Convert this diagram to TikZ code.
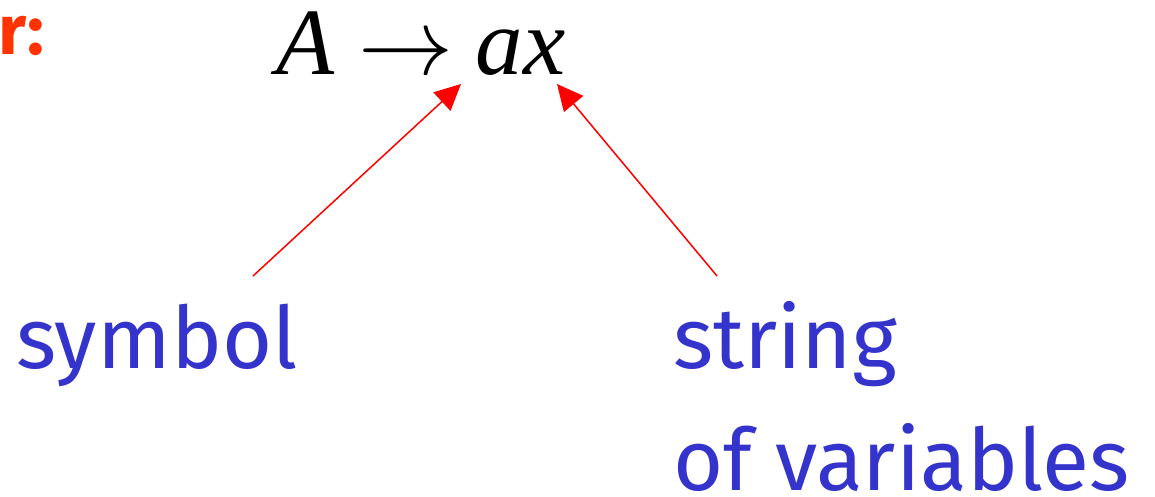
\documentclass[tikz,border=0pt]{standalone}
\usepackage{fix-cm}
\usepackage{fontspec}
\setmainfont{Liberation Serif}
\newfontfamily\labelfont{Fira Sans}
\usepackage{xcolor}
\definecolor{labelblue}{HTML}{3434CC}
\definecolor{titleorange}{HTML}{FF3300}
\usepackage{tikz}
\usetikzlibrary{arrows.meta, positioning}

\begin{document}
\begin{tikzpicture}[x=1pt, y=-1pt,
    lbl/.style={anchor=base west, inner sep=0pt, text=labelblue,
                font=\labelfont\fontsize{86}{122}\selectfont, align=left},
    rule/.style={anchor=base west, inner sep=0pt,
                 font=\fontsize{95}{100}\selectfont},
    a/.style={-{Triangle[length=26pt, width=25pt]}, draw=red, fill=red, line width=1.5pt}]
  \useasboundingbox (0,0) rectangle (1155,497);
  \clip (0,0) rectangle (1155,497);
  % cut-off heading on the left
  \node[anchor=base east, inner sep=0pt, text=titleorange,
        font=\labelfont\bfseries\fontsize{70}{70}\selectfont] (head) at (44,55) {r:};
  % the production
  \node[rule] (lhs) at (276,75) {\textit{A} $\rightarrow$};
  \node[rule, right=22pt of lhs.base east, anchor=base west] (rhs) {\textit{ax}};
  % labels
  \node[lbl] (sym) at (16,368) {symbol};
  \node[lbl] (str) at (673,490) {string\\of variables};
  \coordinate (symtail) at (253,276);
  \coordinate (strtail) at (717,276);
  \coordinate (atip) at (461,84);
  \coordinate (xtip) at (557,84);
  \draw[a] (symtail) -- (atip);
  \draw[a] (strtail) -- (xtip);
\end{tikzpicture}
\end{document}
